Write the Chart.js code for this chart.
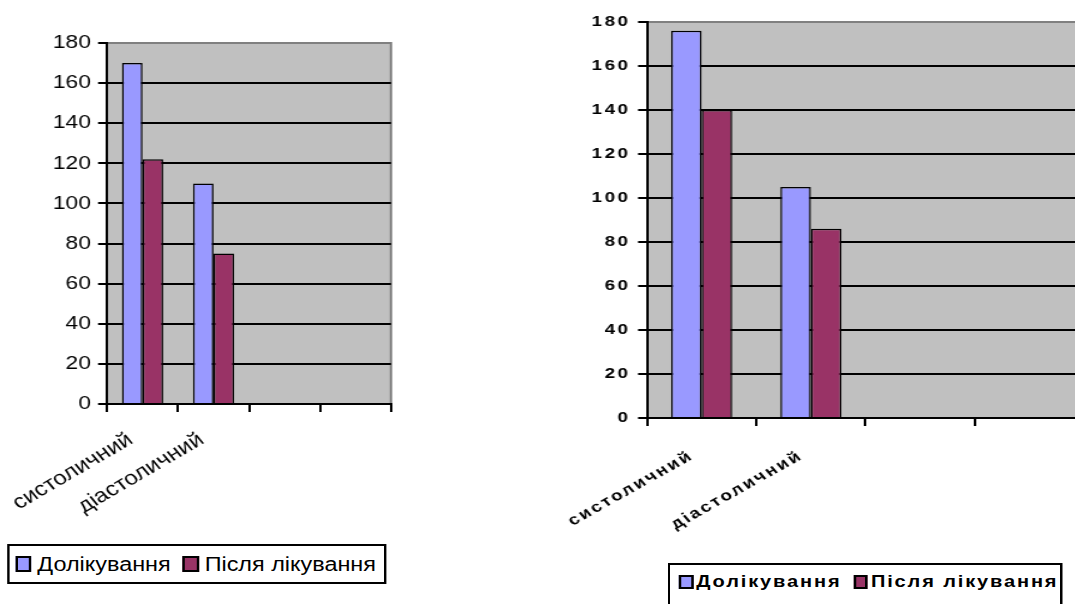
<!DOCTYPE html>
<html>
<head>
<meta charset="utf-8">
<script src="https://cdn.jsdelivr.net/npm/chart.js@4/dist/chart.umd.min.js"></script>
<style>
  html, body { margin: 0; padding: 0; background: #fff; width: 1075px; height: 604px; overflow: hidden; }
  .panel { position: absolute; top: 0; height: 604px; transform-origin: 0 0; }
  .panel canvas { position: absolute; left: 0; top: 0; }
  .legend { position: absolute; box-sizing: border-box; border: 2px solid #000; background: #fff;
            display: flex; align-items: center; white-space: nowrap; color: #000; }
  .legend .sw { display: inline-block; box-sizing: border-box; border: 2px solid #000; flex: none; }
  #legendA { left: 5.8px; top: 544px; width: 316px; height: 40px; padding-left: 5px;
             font: 19.5px "Liberation Sans", Arial, sans-serif; }
  #legendA .sw { width: 13.3px; height: 16px; margin-right: 5px; }
  #legendA .item + .item { margin-left: 10px; }
  #legendB { left: 102.4px; top: 563px; width: 315.2px; height: 60px; padding-left: 7px; padding-top: 8px;
             align-items: flex-start; font: bold 16px "Liberation Sans", Arial, sans-serif; letter-spacing: 1.5px; }
  #legendB .sw { width: 11.2px; height: 14px; margin-right: 2.4px; }
  #legendB .item + .item { margin-left: 10px; }
  .item { display: flex; align-items: center; }
</style>
</head>
<body>
<div class="panel" id="panelA" style="left:0; width:345px; transform:scaleX(1.2);">
  <canvas id="chartA" width="345" height="604"></canvas>
  <div class="legend" id="legendA"></div>
</div>
<div class="panel" id="panelB" style="left:540px; width:450px; transform:scaleX(1.25);">
  <canvas id="chartB" width="450" height="604"></canvas>
  <div class="legend" id="legendB"></div>
</div>
<script>
// Blood pressure categories (two empty slots keep the axis four categories wide)
const categories = ['систоличний', 'діастоличний', '', ''];
const seriesNames = ['Долікування', 'Після лікування'];
const seriesColors = ['#9999FF', '#993366'];

// Group A: values before and after treatment
const beforeA = [170, 110, null, null];
const afterA  = [122, 75, null, null];

// Group B: values before and after treatment
const beforeB = [176, 105, null, null];
const afterB  = [140, 86, null, null];

const yTicks = [0, 20, 40, 60, 80, 100, 120, 140, 160, 180];

// Grey plot background with a grey right edge, like a spreadsheet chart
const plotFrame = {
  id: 'plotFrame',
  beforeDraw(chart) {
    const { ctx, chartArea: a } = chart;
    ctx.save();
    ctx.fillStyle = '#C0C0C0';
    ctx.fillRect(a.left, a.top, a.right - a.left, a.bottom - a.top);
    ctx.strokeStyle = '#808080';
    ctx.lineWidth = 2;
    ctx.beginPath();
    ctx.moveTo(a.right, a.top - 1);
    ctx.lineTo(a.right, a.bottom);
    ctx.stroke();
    ctx.restore();
  }
};

// Optional canvas letter spacing for the bold variant
function letterSpacing(px) {
  return {
    id: 'letterSpacing',
    beforeUpdate(chart) { chart.ctx.letterSpacing = px; },
    beforeDraw(chart) { chart.ctx.letterSpacing = px; }
  };
}

function buildChart(canvasId, before, after, cfg) {
  const font = { family: '"Liberation Sans", Arial, sans-serif', size: cfg.fontSize, weight: cfg.weight };
  const catFont = { family: '"Liberation Sans", Arial, sans-serif', size: cfg.catSize, weight: cfg.weight };
  return new Chart(document.getElementById(canvasId), {
    type: 'bar',
    data: {
      labels: categories,
      datasets: [
        { label: seriesNames[0], data: before, backgroundColor: seriesColors[0] },
        { label: seriesNames[1], data: after, backgroundColor: seriesColors[1] }
      ]
    },
    options: {
      responsive: false,
      animation: false,
      devicePixelRatio: 1,
      layout: { autoPadding: false, padding: { left: 0, top: cfg.top, right: cfg.right, bottom: 0 } },
      datasets: {
        bar: {
          categoryPercentage: cfg.catPct,
          barPercentage: 1,
          borderColor: '#000',
          borderWidth: 1.5,
          borderSkipped: 'start'
        }
      },
      plugins: { legend: { display: false }, tooltip: { enabled: false } },
      scales: {
        x: {
          // fixed band height; rotated labels may overhang the plot sides
          afterFit: s => { s.height = cfg.xHeight; s.paddingLeft = 0; s.paddingRight = 0; },
          grid: { offset: true, drawOnChartArea: false, tickLength: 8, tickColor: '#000', lineWidth: 2 },
          border: { color: '#000', width: 2 },
          ticks: {
            autoSkip: false, minRotation: cfg.rot, maxRotation: cfg.rot,
            padding: cfg.xPad, labelOffset: cfg.xShift, color: '#000', font: catFont
          }
        },
        y: {
          min: 0, max: 180,
          afterFit: s => { s.width = cfg.yWidth; },
          afterBuildTicks: s => { s.ticks = yTicks.map(v => ({ value: v })); },
          grid: {
            color: c => (c.tick && c.tick.value === 180) ? '#808080' : '#000',
            lineWidth: 2, tickLength: cfg.yTick, tickColor: '#000'
          },
          border: { color: '#000', width: 2 },
          ticks: { padding: cfg.yPad, color: '#000', font }
        }
      }
    },
    plugins: cfg.spacing ? [letterSpacing(cfg.spacing), plotFrame] : [plotFrame]
  });
}

const chartA = buildChart('chartA', beforeA, afterA, {
  fontSize: 19, catSize: 20, weight: 'normal', top: 43, right: 19.2,
  catPct: 0.58, rot: 35, xPad: 16, xShift: -10, xHeight: 200, yWidth: 89.2, yTick: 7.5, yPad: 6
});
const chartB = buildChart('chartB', beforeB, afterB, {
  fontSize: 15, catSize: 15, weight: 'bold', top: 22, right: 14.8,
  catPct: 0.56, rot: 35, xPad: 21, xShift: -8, xHeight: 186, yWidth: 85.6, yTick: 7.2, yPad: 6, spacing: '2px'
});

// HTML legends built from each chart's datasets
function buildLegend(chart, el) {
  chart.data.datasets.forEach(ds => {
    const item = document.createElement('span');
    item.className = 'item';
    const sw = document.createElement('span');
    sw.className = 'sw';
    sw.style.background = ds.backgroundColor;
    const txt = document.createElement('span');
    txt.textContent = ds.label;
    item.appendChild(sw);
    item.appendChild(txt);
    el.appendChild(item);
  });
}
buildLegend(chartA, document.getElementById('legendA'));
buildLegend(chartB, document.getElementById('legendB'));
</script>
</body>
</html>
